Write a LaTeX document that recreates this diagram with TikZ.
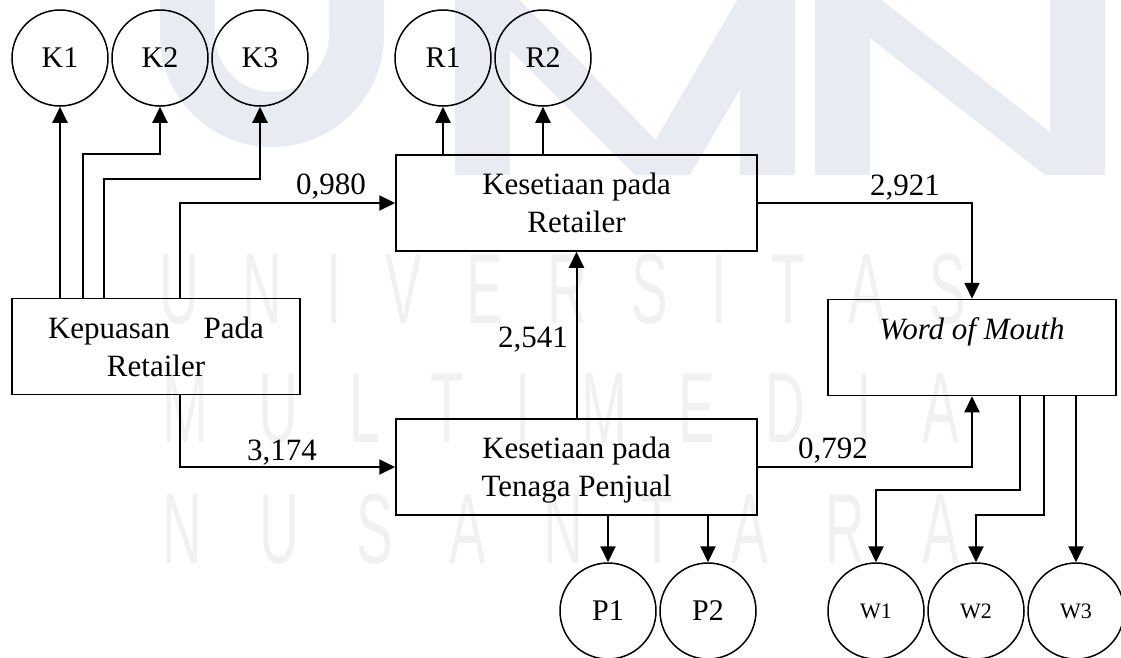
\documentclass[tikz,border=0pt]{standalone}
\usepackage{fontspec}
\setmainfont{Liberation Serif}
\newfontfamily\wmfont[FakeStretch=0.55]{Liberation Sans}
\usetikzlibrary{arrows.meta}
\definecolor{wmblue}{HTML}{E8ECF2}
\definecolor{wmgrey}{HTML}{F1F1F1}
\begin{document}
\begin{tikzpicture}[x=1pt,y=-1pt,
  box/.style={draw,line width=1.5pt,minimum width=361pt,minimum height=96pt,inner sep=0pt,
    align=center,text depth=0pt,font=\fontsize{31}{38}\selectfont},
  ind/.style={draw,circle,line width=1.5pt,minimum size=96pt,inner sep=0pt,
    font=\fontsize{30}{34}\selectfont},
  smallind/.style={ind,font=\fontsize{22}{26}\selectfont},
  arr/.style={line width=2pt,-{Triangle[length=16pt,width=15pt]}},
  lbl/.style={anchor=base,inner sep=0pt,font=\fontsize{31}{38}\selectfont},
  wm/.style={anchor=base west,inner sep=0pt,text=wmgrey,font=\wmfont\fontsize{100}{100}\selectfont}]
\useasboundingbox (0,0) rectangle (1121,657);
% faint watermark
\begin{scope}
\clip (0,0) rectangle (1121,657);
\fill[wmblue] (160,-5) -- (160,35) arc(180:0:112) -- (384,-5) -- (329,-5) -- (329,35) arc(0:180:57) -- (215,-5) -- cycle;
\fill[wmblue] (455,-5) rectangle (510,175);
\fill[wmblue] (740,-5) rectangle (795,175);
\fill[wmblue] (455,-5) -- (515,-5) -- (690,175) -- (635,175) -- cycle;
\fill[wmblue] (740,-5) -- (795,-5) -- (690,175) -- (635,175) -- cycle;
\fill[wmblue] (815,-5) rectangle (870,175);
\fill[wmblue] (1050,-5) rectangle (1105,175);
\fill[wmblue] (815,-5) -- (875,-5) -- (1105,175) -- (1045,175) -- cycle;
\end{scope}
\node[wm] (wm1) at (159,323) {\makebox[807pt][s]{U\hfill N\hfill I\hfill V\hfill E\hfill R\hfill S\hfill I\hfill T\hfill A\hfill S}};
\node[wm] (wm2) at (162,442) {\makebox[797pt][s]{M\hfill U\hfill L\hfill T\hfill I\hfill M\hfill E\hfill D\hfill I\hfill A}};
\node[wm] (wm3) at (162,563) {\makebox[797pt][s]{N\hfill U\hfill S\hfill A\hfill N\hfill T\hfill A\hfill R\hfill A}};

% indicator circles
\node[ind] (K1) at (60,58) {K1};
\node[ind] (K2) at (160,58) {K2};
\node[ind] (K3) at (260,58) {K3};
\node[ind] (R1) at (443,58) {R1};
\node[ind] (R2) at (543,58) {R2};
\node[ind] (P1) at (608,611) {P1};
\node[ind] (P2) at (708,611) {P2};
\node[smallind] (W1) at (876,611) {W1};
\node[smallind] (W2) at (976,611) {W2};
\node[smallind] (W3) at (1076,611) {W3};

% construct boxes
\node[box,minimum width=288pt] (KP) at (156,346.5) {\makebox[216pt]{Kepuasan\hfill Pada}\\Retailer};
\node[box] (KR) at (576.5,203) {Kesetiaan pada\\Retailer};
\node[box] (KT) at (576.5,467) {Kesetiaan pada\\Tenaga Penjual};
\node[box,minimum width=288pt] (WM) at (972,347.5) {\textit{Word of Mouth}\\\mbox{}};

% indicator arrows
\draw[arr] (KP.north -| K1) -- (K1);
\draw[arr] (KP.north -| 83,0) |- (K2 |- 0,154) -- (K2);
\draw[arr] (KP.north -| 104,0) |- (K3 |- 0,179) -- (K3);
\draw[arr] (KR.north -| R1) -- (R1);
\draw[arr] (KR.north -| R2) -- (R2);
\draw[arr] (KT.south -| P1) -- (P1);
\draw[arr] (KT.south -| P2) -- (P2);
\draw[arr] (WM.south -| 1020,0) |- (W1 |- 0,490) -- (W1);
\draw[arr] (WM.south -| 1044,0) |- (W2 |- 0,515) -- (W2);
\draw[arr] (WM.south -| W3) -- (W3);

% structural paths
\draw[arr] (KP.north -| 180,0) |- (KR.west);
\draw[arr] (KP.south -| 180,0) |- (KT.west);
\draw[arr] (KT) -- (KR);
\draw[arr] (KR.east) -| (WM.north);
\draw[arr] (KT.east) -| (WM.south);

% coefficients
\node[lbl] (l980) at (331,194) {0,980};
\node[lbl] (l921) at (905,195) {2,921};
\node[lbl] (l541) at (533,347) {2,541};
\node[lbl] (l174) at (282,460) {3,174};
\node[lbl] (l792) at (833,458) {0,792};
\end{tikzpicture}
\end{document}
